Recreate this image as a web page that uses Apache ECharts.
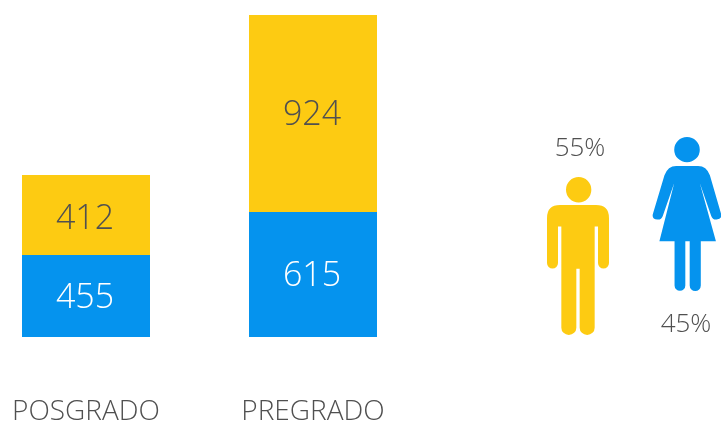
<!DOCTYPE html>
<html><head><meta charset="utf-8">
<style>html,body{margin:0;padding:0;background:#fff}#c{width:721px;height:421px}</style>
<script src="https://cdn.jsdelivr.net/npm/echarts@6/dist/echarts.min.js"></script>
</head><body><div id="c"></div>
<script>
const categories = ['POSGRADO', 'PREGRADO'];
const blueLabels = [455, 615];
const yellowLabels = [412, 924];
// bar lengths (the drawn bars are not strictly proportional to their labels)
const blueLengths = [82, 125];
const yellowLengths = [80, 197];
const genderNames = ['Hombres', 'Mujeres'];
const genderShares = [55, 45];

const BLUE = '#0593EE', YELLOW = '#FDCB12', TEXT = '#505050';
const FONT = '"Open Sans", sans-serif';

const manPath = 'path://M108,211a38,38 0 1,1 76,0a38,38 0 1,1 -76,0Z' +
  'M90,257H198Q237,257 237,296V430A16.5,16.5 0 0 1 204,430V321H194V623A22.5,22 0 0 1 149,623V447H139V623A22.5,22 0 0 1 94,623V321H84V430A16.5,16.5 0 0 1 51,430V296Q51,257 90,257Z';
const womanPath = 'path://M434,88a38,38 0 1,1 76,0a38,38 0 1,1 -76,0Z' +
  'M440,137H505Q530,137 540,165L573,280Q578,296 560,298Q548,299 544,287L510,188L558,363H513V496A16.5,16.5 0 0 1 480,496V363H467V496A16,16 0 0 1 435,496V363H390L434,188L400,287Q396,299 384,298Q366,296 371,280L405,165Q415,137 440,137Z';

const barLabel = {show: true, position: 'inside', fontFamily: FONT, fontSize: 34, fontWeight: 300};

const chart = echarts.init(document.getElementById('c'), null, {renderer: 'canvas'});
chart.setOption({
  animation: false,
  backgroundColor: '#fff',
  grid: [
    {left: -27.5, width: 454, top: 15, height: 322, outerBoundsMode: 'none'},
    {left: 523.5, width: 218, top: 25, height: 420, outerBoundsMode: 'none'}
  ],
  xAxis: [
    {type: 'category', gridIndex: 0, data: categories,
     axisLine: {show: false}, axisTick: {show: false},
     axisLabel: {show: true, color: TEXT, fontFamily: FONT, fontSize: 28, fontWeight: 300, margin: 61}},
    {type: 'category', gridIndex: 1, data: genderNames, show: false}
  ],
  yAxis: [
    {type: 'value', gridIndex: 0, min: 0, max: 322, show: false},
    {type: 'value', gridIndex: 1, min: 0, max: 100, inverse: true, show: false}
  ],
  series: [
    {type: 'bar', stack: 'a', data: blueLengths, barWidth: 128, itemStyle: {color: BLUE},
     label: Object.assign({}, barLabel, {color: '#fff', offset: [-1, 2],
             formatter: p => String(blueLabels[p.dataIndex])})},
    {type: 'bar', stack: 'a', barWidth: 128, itemStyle: {color: YELLOW},
     data: [
       {value: yellowLengths[0], label: {offset: [-1, 4]}},
       {value: yellowLengths[1], label: {offset: [-1, 2]}}
     ],
     label: Object.assign({}, barLabel, {color: TEXT,
             formatter: p => String(yellowLabels[p.dataIndex])})},
    {type: 'scatter', xAxisIndex: 1, yAxisIndex: 1, clip: false,
     data: [
       {value: [genderNames[0], genderShares[0]], symbol: manPath, symbolSize: [62, 158],
        itemStyle: {color: YELLOW, opacity: 1},
        label: {position: 'top', distance: 15, offset: [2, 0]}},
       {value: [genderNames[1], genderShares[1]], symbol: womanPath, symbolSize: [68.7, 154],
        itemStyle: {color: BLUE, opacity: 1},
        label: {position: 'bottom', distance: 21, offset: [-1, 0]}}
     ],
     label: {show: true, fontFamily: FONT, fontSize: 26, fontWeight: 300, color: TEXT,
             formatter: p => p.value[1] + '%'}}
  ]
});
</script></body></html>
